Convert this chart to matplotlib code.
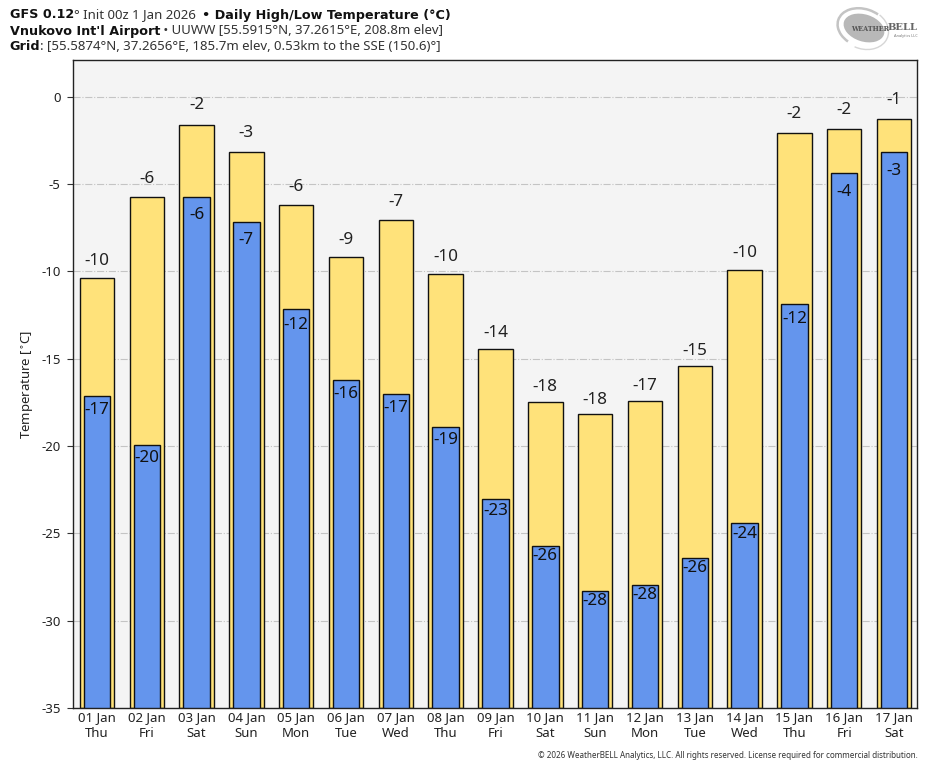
import matplotlib
matplotlib.use("Agg")
import matplotlib.pyplot as plt
from matplotlib.patches import Ellipse, Arc

plt.rcParams['font.family'] = ['Noto Sans', 'DejaVu Sans']

dates = ['01 Jan','02 Jan','03 Jan','04 Jan','05 Jan','06 Jan','07 Jan','08 Jan','09 Jan',
         '10 Jan','11 Jan','12 Jan','13 Jan','14 Jan','15 Jan','16 Jan','17 Jan']
days = ['Thu','Fri','Sat','Sun','Mon','Tue','Wed','Thu','Fri','Sat','Sun','Mon','Tue','Wed','Thu','Fri','Sat']
highs = [-10.4,-5.75,-1.63,-3.2,-6.2,-9.2,-7.07,-10.15,-14.45,-17.5,-18.2,-17.45,-15.45,-9.93,-2.1,-1.86,-1.3]
lows = [-17.15,-19.95,-5.75,-7.18,-12.17,-16.2,-17.0,-18.9,-23.05,-25.7,-28.3,-27.95,-26.4,-24.4,-11.85,-4.38,-3.2]
yticks = [0,-5,-10,-15,-20,-25,-30,-35]

W, H = 935, 768
fig = plt.figure(figsize=(W/100, H/100), dpi=100, facecolor='white')
L, R, T, B = 72.5, 917.5, 60, 708
ax = fig.add_axes([L/W, 1-B/H, (R-L)/W, (B-T)/H], facecolor='#f4f4f4')
ax.set_xlim(-0.49, 16.47)
ax.set_ylim(-35, 2.09)
ax.set_axisbelow(True)
ax.yaxis.grid(True, color='#c4c4c4', lw=0.8, ls='-.')
ax.xaxis.grid(False)
x = list(range(len(dates)))
base = -35
ax.bar(x, [h-base for h in highs], bottom=base, width=0.69, color='#ffe27a', edgecolor='#111111', lw=1.0, zorder=2)
ax.bar(x, [l-base for l in lows], bottom=base, width=0.53, color='#6495ed', edgecolor='#111111', lw=1.0, zorder=3)
PX_PER_UNIT = 17.47
def ypix(v):
    return 96.5 - v*PX_PER_UNIT
for i, (h, l) in enumerate(zip(highs, lows)):
    hi_off = 23.5 - 0.016*ypix(h)
    lo_off = 20.1 - 0.0205*ypix(l)
    ax.annotate(f'{round(h):d}', (i, h), xytext=(0, hi_off*0.72), textcoords='offset points', ha='center', va='center_baseline',
                fontsize=12.3, color='#222222', zorder=5, annotation_clip=False)
    ax.annotate(f'{round(l):d}', (i, l), xytext=(0, -lo_off*0.72), textcoords='offset points', ha='center', va='center_baseline',
                fontsize=12.3, color='#111111', zorder=5)
ax.set_xticks(x)
ax.set_xticklabels([f'{d}\n{w}' for d, w in zip(dates, days)], fontsize=9.5, color='#222222', linespacing=1.3)
ax.set_yticks(yticks)
ax.set_yticklabels([str(t) for t in yticks], fontsize=9.5, color='#222222')
ax.tick_params(axis='x', length=0, pad=2.3)
ax.tick_params(axis='y', length=4.5, width=0.8, color='#333333', pad=4)
ax.set_ylabel('Temperature [$^{\\circ}$C]', fontsize=9.5, color='#222222', labelpad=4)
for s in ax.spines.values():
    s.set_linewidth(1.0)
    s.set_color('#222222')

def line(y, parts):
    xp = 9.5
    rend = fig.canvas.get_renderer()
    for txt, bold in parts:
        t = fig.text(xp/W, 1-y/H, txt, fontsize=9.2 if bold else 9.5,
                     family='DejaVu Sans' if bold else 'Noto Sans',
                     fontweight='bold' if bold else 'normal',
                     color='#111111' if bold else '#333333', ha='left', va='center')
        xp += t.get_window_extent(rend).width + (3 if txt.endswith(' ') else 0)

line(15, [('GFS 0.12', True), ('° Init 00z 1 Jan 2026 ', False), ('• Daily High/Low Temperature (°C)', True)])
line(31, [("Vnukovo Int'l Airport", True), (' • UUWW [55.5915°N, 37.2615°E, 208.8m elev]', False)])
line(47, [('Grid', True), (': [55.5874°N, 37.2656°E, 185.7m elev, 0.53km to the SSE (150.6)°]', False)])

fig.text(918/W, 1-755/H, '© 2026 WeatherBELL Analytics, LLC. All rights reserved. License required for commercial distribution.',
         fontsize=5.8, color='#333333', ha='right', va='center')

# logo
lax = fig.add_axes([0, 0, 1, 1], facecolor='none')
lax.set_xlim(0, W); lax.set_ylim(H, 0); lax.axis('off')
lax.add_patch(Ellipse((864, 28), 42, 27, angle=18, fc='#b8b8b8', ec='none'))
lax.add_patch(Arc((863, 28), 52, 38, angle=18, theta1=120, theta2=300, color='#c4c4c4', lw=1.8))
lax.add_patch(Arc((864, 29), 50, 40, angle=18, theta1=300, theta2=100, color='#d6d6d6', lw=1.0))
lax.text(851, 29, 'WEATHER', fontsize=4.7, family='DejaVu Serif', fontweight='bold', color='#555555', ha='left', va='center')
lax.text(888, 28, 'BELL', fontsize=7.2, family='DejaVu Serif', fontweight='bold', color='#666666', ha='left', va='center')
lax.text(918, 35.5, 'Analytics LLC', fontsize=2.8, color='#777777', ha='right', va='center')

fig.savefig('out.png', dpi=100)
